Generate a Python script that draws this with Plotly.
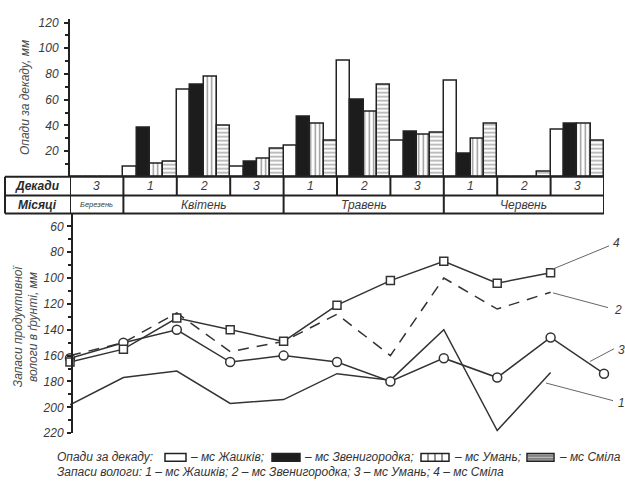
import plotly.graph_objects as go

# ---------------- data ----------------
decade_labels = ["3", "1", "2", "3", "1", "2", "3", "1", "2", "3"]
month_labels = ["Березень", "Квітень", "Травень", "Червень"]
month_spans = [(0, 1), (1, 4), (4, 7), (7, 10)]
stations = ["мс Жашків", "мс Звенигородка", "мс Умань", "мс Сміла"]

precip_zhashkiv = [0, 8, 68, 8, 24, 90, 28, 75, 0, 37]
precip_zvenyhorodka = [0, 38, 72, 12, 47, 60, 35, 18, 0, 41]
precip_uman = [0, 10, 78, 14, 41, 51, 33, 30, 0, 41]
precip_smila = [0, 12, 40, 22, 28, 72, 34, 41, 4, 28]

moist_zhashkiv = [198, 177, 172, 197, 194, 174, 179, 140, 218, 173]
moist_zvenyhorodka = [160, 150, 127, 157, 149, 128, 160, 100, 124, 111]
moist_uman = [162, 150, 140, 165, 160, 165, 180, 162, 177, 146, 174]
moist_smila = [165, 155, 131, 140, 149, 121, 102, 87, 104, 96]

line_labels = ["1", "2", "3", "4"]

precip_ticks = [20, 40, 60, 80, 100, 120]
moist_ticks = [60, 80, 100, 120, 140, 160, 180, 200, 220]

# ---------------- geometry helpers ----------------
W, H = 625, 486
def px(x):
    return x / W
def py(y):
    return 1 - y / H

FONT = "Liberation Sans"
TXT = "#3a3a3a"
INK = "#222222"

fig = go.Figure()

bar_x = [i + 0.5 for i in range(len(decade_labels))]
bar_styles = [
    dict(color="white", pattern=None),
    dict(color="#1c1c1c", pattern=None),
    dict(color="white", pattern=dict(shape="|", fgcolor=INK, bgcolor="white", size=4.5, solidity=0.3)),
    dict(color="white", pattern=dict(shape="-", fgcolor=INK, bgcolor="white", size=4, solidity=0.3)),
]
for name, vals, st in zip(stations, [precip_zhashkiv, precip_zvenyhorodka, precip_uman, precip_smila], bar_styles):
    marker = dict(color=st["color"], line=dict(color=INK, width=1.5))
    if st["pattern"]:
        marker["pattern"] = st["pattern"]
    fig.add_trace(go.Bar(x=bar_x, y=vals, name=name, marker=marker, xaxis="x", yaxis="y", showlegend=False))

# moisture lines
xb10 = list(range(10))
xb11 = list(range(11))
fig.add_trace(go.Scatter(x=xb10, y=moist_zhashkiv, mode="lines", line=dict(color="#333", width=1.5),
                         xaxis="x2", yaxis="y2", showlegend=False, cliponaxis=False))
fig.add_trace(go.Scatter(x=xb10, y=moist_zvenyhorodka, mode="lines",
                         line=dict(color="#333", width=1.5, dash="11px,8px"),
                         xaxis="x2", yaxis="y2", showlegend=False, cliponaxis=False))
fig.add_trace(go.Scatter(x=xb11, y=moist_uman, mode="lines+markers", line=dict(color="#333", width=1.5),
                         marker=dict(symbol="circle", size=9, color="white", line=dict(color="#333", width=1.5)),
                         xaxis="x2", yaxis="y2", showlegend=False, cliponaxis=False))
fig.add_trace(go.Scatter(x=xb10, y=moist_smila, mode="lines+markers", line=dict(color="#333", width=1.5),
                         marker=dict(symbol="square", size=8, color="white", line=dict(color="#333", width=1.5)),
                         xaxis="x2", yaxis="y2", showlegend=False, cliponaxis=False))

tickfont = dict(family=FONT, size=12, color=TXT, style="italic")

fig.update_layout(
    width=W, height=H, autosize=False,
    margin=dict(l=0, r=0, t=0, b=0),
    paper_bgcolor="white", plot_bgcolor="rgba(0,0,0,0)",
    barmode="group", bargap=0, bargroupgap=0,
    xaxis=dict(domain=[px(70), px(604)], range=[0, 10], visible=False, anchor="y"),
    yaxis=dict(domain=[py(177.5), py(16)], range=[0, 123], anchor="x",
               showline=True, linecolor=INK, linewidth=2, showgrid=False, zeroline=False,
               ticks="outside", ticklen=4, tickwidth=1.5, tickcolor=INK,
               tickmode="array", tickvals=precip_ticks, tickfont=tickfont, ticklabelstandoff=3,
               minor=dict(ticks="outside", ticklen=3, tickwidth=1.5, tickcolor=INK,
                          tickmode="array", tickvals=[10, 30, 50, 70, 90, 110])),
    xaxis2=dict(domain=[px(70), px(604)], range=[0, 10], visible=False, anchor="y2"),
    yaxis2=dict(domain=[py(439.2), py(214.8)], range=[220, 50], anchor="free", position=px(72),
                showline=True, linecolor=INK, linewidth=2, showgrid=False, zeroline=False,
                ticks="outside", ticklen=4, tickwidth=1.5, tickcolor=INK,
                tickmode="array", tickvals=moist_ticks, tickfont=tickfont, ticklabelstandoff=1,
                minor=dict(ticks="outside", ticklen=3, tickwidth=1.5, tickcolor=INK,
                           tickmode="array", tickvals=[70, 90, 110, 130, 150, 170, 190, 210])),
)

shapes = []
ann = []

# ---------------- table ----------------
y_top, y_mid, y_bot = py(177.5), py(196.5), py(215)
lw = 2
for yy in (y_top, y_mid, y_bot):
    shapes.append(dict(type="line", xref="paper", yref="paper", x0=px(5), x1=px(604), y0=yy, y1=yy,
                       line=dict(color=INK, width=lw)))
shapes.append(dict(type="line", xref="paper", yref="paper", x0=px(5), x1=px(5), y0=y_bot, y1=y_top,
                   line=dict(color=INK, width=lw)))
for xv in (0, 10):
    shapes.append(dict(type="line", xref="x", yref="paper", x0=xv, x1=xv, y0=y_bot, y1=y_top,
                       line=dict(color=INK, width=lw)))
for xv in range(1, 10):
    shapes.append(dict(type="line", xref="x", yref="paper", x0=xv, x1=xv, y0=y_mid, y1=y_top,
                       line=dict(color=INK, width=lw)))
for (a, b) in month_spans[1:]:
    shapes.append(dict(type="line", xref="x", yref="paper", x0=a, x1=a, y0=y_bot, y1=y_mid,
                       line=dict(color=INK, width=lw)))

cell_font = dict(family=FONT, size=12, color=TXT, style="italic")
for i, d in enumerate(decade_labels):
    ann.append(dict(x=i + 0.5, y=(y_top + y_mid) / 2, xref="x", yref="paper", text=d, showarrow=False,
                    font=cell_font, xanchor="center", yanchor="middle"))
for m, (a, b) in zip(month_labels, month_spans):
    f = dict(cell_font)
    if b - a == 1:
        f["size"] = 7.5
    ann.append(dict(x=(a + b) / 2, y=(y_mid + y_bot) / 2, xref="x", yref="paper", text=m, showarrow=False,
                    font=f, xanchor="center", yanchor="middle"))
hdr_font = dict(family=FONT, size=12, color="#2a2a2a", style="italic", weight="bold")
ann.append(dict(x=px(37), y=(y_top + y_mid) / 2, xref="paper", yref="paper", text="Декади", showarrow=False,
                font=hdr_font, xanchor="center", yanchor="middle"))
ann.append(dict(x=px(37), y=(y_mid + y_bot) / 2, xref="paper", yref="paper", text="Місяці", showarrow=False,
                font=hdr_font, xanchor="center", yanchor="middle"))

# ---------------- axis titles ----------------
title_font = dict(family=FONT, size=12, color="#4a4a4a", style="italic")
ann.append(dict(x=px(25), y=py(97), xref="paper", yref="paper", text="Опади за декаду, мм",
                textangle=-90, showarrow=False, font=title_font, xanchor="center", yanchor="middle"))
ann.append(dict(x=px(26), y=py(330), xref="paper", yref="paper",
                text="Запаси продуктивної<br>вологи в ґрунті, мм",
                textangle=-90, showarrow=False, font=title_font, xanchor="center", yanchor="middle"))

# ---------------- line labels with leaders (pixel positions) ----------------
leaders = {
    "4": ((552, 272), (609, 248), (616, 245)),
    "2": ((553, 296), (608, 311), (618, 313)),
    "3": ((590, 366), (614, 353), (621, 354)),
    "1": ((546, 388), (613, 406), (621, 408)),
}
for lab in line_labels:
    p0, p1, pt = leaders[lab]
    shapes.append(dict(type="line", xref="paper", yref="paper", x0=px(p0[0]), y0=py(p0[1]),
                       x1=px(p1[0]), y1=py(p1[1]), line=dict(color="#666", width=1)))
    ann.append(dict(x=px(pt[0]), y=py(pt[1]), xref="paper", yref="paper", text=lab, showarrow=False,
                    font=dict(family=FONT, size=12, color=TXT, style="italic"),
                    xanchor="center", yanchor="middle"))

# ---------------- bottom legend ----------------
leg_font = dict(family=FONT, size=12, color="#333", style="italic")
yl1, yl2 = 464, 479
def box(x0, x1, fill):
    shapes.append(dict(type="rect", xref="paper", yref="paper", x0=px(x0), x1=px(x1),
                       y0=py(yl1 + 4), y1=py(yl1 - 4), fillcolor=fill, line=dict(color=INK, width=1.5)))
def text(x, y, t):
    ann.append(dict(x=px(x), y=py(y), xref="paper", yref="paper", text=t, showarrow=False,
                    font=leg_font, xanchor="left", yanchor="middle"))

text(55, yl1, "Опади за декаду:")
box(165, 186, "white")
text(188, yl1, "– " + stations[0] + ";")
box(272, 300, "#1c1c1c")
text(302, yl1, "– " + stations[1] + ";")
box(421, 449, "white")
for xx in (428, 435, 442):
    shapes.append(dict(type="line", xref="paper", yref="paper", x0=px(xx), x1=px(xx), y0=py(yl1 + 4), y1=py(yl1 - 4),
                       line=dict(color=INK, width=1)))
text(452, yl1, "– " + stations[2] + ";")
box(527, 554, "#bbbbbb")
for yy in (yl1 - 1.5, yl1 + 1.5):
    shapes.append(dict(type="line", xref="paper", yref="paper", x0=px(527), x1=px(554), y0=py(yy), y1=py(yy),
                       line=dict(color="#555", width=1)))
text(557, yl1, "– " + stations[3])

line2 = "Запаси вологи: " + "; ".join(f"{l} – {s}" for l, s in zip(line_labels, stations))
text(55, yl2, line2)

fig.update_layout(shapes=shapes, annotations=ann)

fig.write_html("out.html", config={"displayModeBar": False},
               post_script="document.body.style.margin='0';")
